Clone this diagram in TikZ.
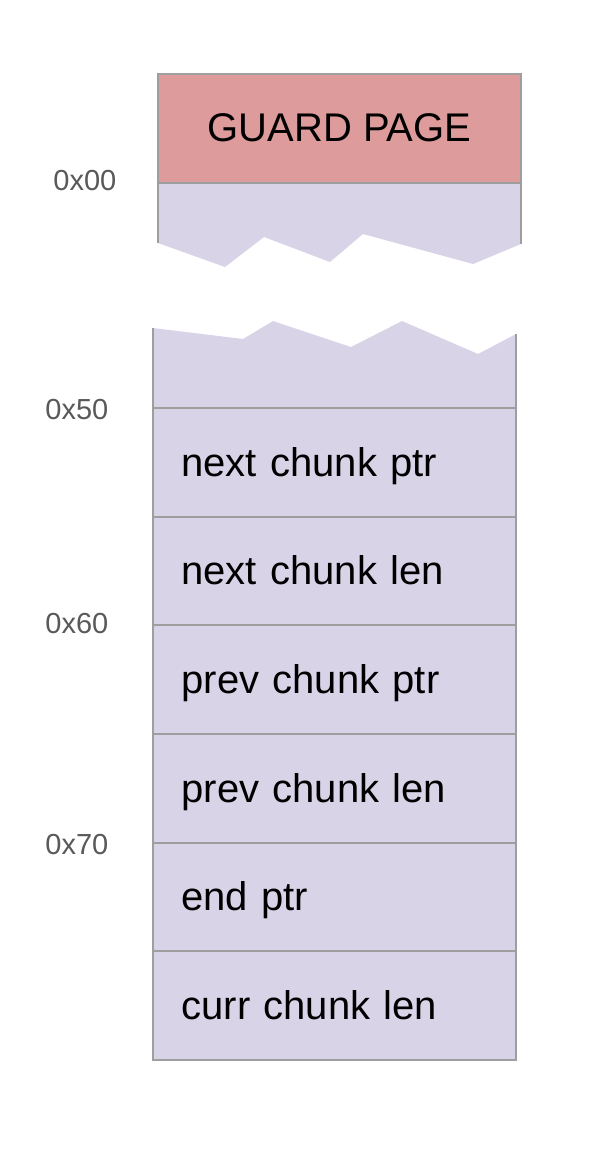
\documentclass[tikz,border=0pt]{standalone}
\usepackage{fontspec}
\setmainfont{Liberation Sans}
\definecolor{lav}{HTML}{D9D3E8}
\definecolor{guardred}{HTML}{DE9B9B}
\definecolor{edge}{HTML}{9E9E9E}
\definecolor{hexgray}{HTML}{595959}
\begin{document}
\begin{tikzpicture}[x=0.5pt,y=-0.5pt,
  edgeline/.style={draw=edge,line width=1pt},
  cell/.style={edgeline,fill=lav,minimum width=181.5pt,minimum height=54.33pt,
    text width=153pt,align=left,inner xsep=14pt,inner ysep=0pt,
    text height=13.6pt,text depth=0pt,font=\fontsize{20}{24}\selectfont},
  guard/.style={edgeline,fill=guardred,minimum width=181.5pt,minimum height=54.5pt,
    inner sep=0pt,text height=13.2pt,text depth=0pt,font=\fontsize{20}{24}\selectfont},
  hexlabel/.style={anchor=base west,inner sep=0pt,text=hexgray,font=\fontsize{14.5}{17}\selectfont}]
\useasboundingbox (0,0) rectangle (602,1151);
% upper piece
\fill[lav] (158,183) -- (521,183) -- (521,244) -- (473,264) -- (363,234) -- (330,262)
  -- (264,237) -- (225,267) -- (158,243) -- cycle;
\draw[edgeline] (158,183) -- (158,243);
\draw[edgeline] (521,183) -- (521,244);
\node[guard] (gp) at (339.5,128.5) {GUARD PAGE};
% lower piece
\fill[lav] (153,328) -- (243,339) -- (273,321) -- (351,347) -- (402,321) -- (478,354)
  -- (516,334) -- (516,410) -- (153,410) -- cycle;
\draw[edgeline] (153,328) -- (153,408);
\draw[edgeline] (516,334) -- (516,408);
\node[cell] (c1) at (334.5,462.5) {next chunk ptr};
\node[cell] (c2) at (334.5,571.2) {next chunk len};
\node[cell] (c3) at (334.5,679.8) {prev chunk ptr};
\node[cell] (c4) at (334.5,788.5) {prev chunk len};
\node[cell] (c5) at (334.5,897.2) {end ptr};
\node[cell] (c6) at (334.5,1005.8) {curr chunk len};
% address labels
\node[hexlabel] (h0) at (53,190) {0x00};
\node[hexlabel] (h5) at (45,419) {0x50};
\node[hexlabel] (h6) at (45,633) {0x60};
\node[hexlabel] (h7) at (45,854) {0x70};
\end{tikzpicture}
\end{document}
